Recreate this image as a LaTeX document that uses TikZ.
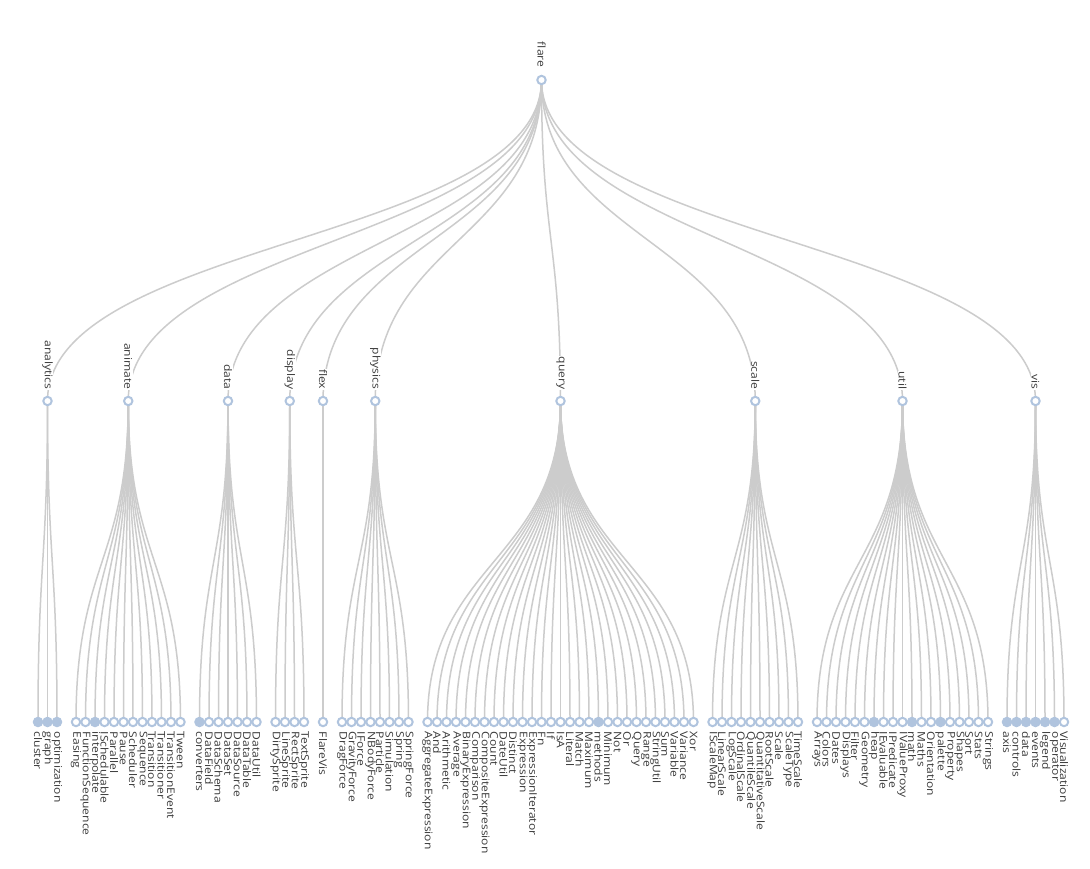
\documentclass[tikz,border=0pt]{standalone}
\usepackage{fontspec}
\setmainfont{Open Sans}
\usepackage{graphicx}
\pgfdeclarelayer{bg}
\pgfsetlayers{bg,main}
\definecolor{linkc}{HTML}{CCCCCC}
\definecolor{nodec}{HTML}{B0C4DE}
\definecolor{txtc}{HTML}{3A3A3A}
\tikzset{
  dot/.style={circle,draw=nodec,line width=2pt,fill=white,minimum size=8.4pt,inner sep=0pt},
  full/.style={dot,fill=nodec},
  link/.style={draw=linkc,line width=1.5pt},
  lbl/.style={rotate=-90,font=\fontsize{10.5}{12}\selectfont,text=txtc,inner sep=0.6pt},
  inlbl/.style={lbl,fill=white,anchor=east},
  leaflbl/.style={lbl,anchor=west},
}
\newcommand\hs[1]{\scalebox{1.15}[1]{#1}}
% #1 id/label, #2 parent x, #3 start unit, #4 list label/style
\newcommand\grp[4]{%
  \begin{pgfonlayer}{bg}
    \draw[link] (root.center) .. controls (541.5,240.5) and (#2,240.5) .. (#1.center);
  \end{pgfonlayer}
  \foreach \lbtxt/\lbsty [count=\i from 0] in {#4} {
    \pgfmathsetmacro\lx{38+9.5*(#3+\i)}
    \node[\lbsty] (#1-\i) at (\lx,722) {};
    \node[leaflbl] (#1-\i-l) at (\lx,731) {\hs{\lbtxt}};
    \begin{pgfonlayer}{bg}
      \draw[link] (#1.center) .. controls (#2,561.5) and (\lx,561.5) .. (#1-\i.center);
    \end{pgfonlayer}
  }
}
\begin{document}
\begin{tikzpicture}[x=1pt,y=-1pt]
\begin{pgfonlayer}{bg}
\fill[white] (0,0) rectangle (1090,869);
\end{pgfonlayer}
\useasboundingbox (0,0) rectangle (1090,869);
\node[dot] (root) at (541.5,80) {};
\node[lbl,anchor=east] (root-l) at (541.5,68) {\hs{flare}};
% level-1 nodes
\foreach \nm/\px in {analytics/47.5, animate/128.25, data/228, display/289.75, flex/323,
  physics/375.25, query/560.5, scale/755.25, util/902.5, vis/1035.5} {
  \node[dot] (\nm) at (\px,401) {};
}
\grp{analytics}{47.5}{0}{cluster/full,graph/full,optimization/full}
\grp{animate}{128.25}{4}{Easing/dot,FunctionSequence/dot,interpolate/full,ISchedulable/dot,Parallel/dot,Pause/dot,Scheduler/dot,Sequence/dot,Transition/dot,Transitioner/dot,TransitionEvent/dot,Tween/dot}
\grp{data}{228}{17}{converters/full,DataField/dot,DataSchema/dot,DataSet/dot,DataSource/dot,DataTable/dot,DataUtil/dot}
\grp{display}{289.75}{25}{DirtySprite/dot,LineSprite/dot,RectSprite/dot,TextSprite/dot}
\grp{flex}{323}{30}{FlareVis/dot}
\grp{physics}{375.25}{32}{DragForce/dot,GravityForce/dot,IForce/dot,NBodyForce/dot,Particle/dot,Simulation/dot,Spring/dot,SpringForce/dot}
\grp{query}{560.5}{41}{AggregateExpression/dot,And/dot,Arithmetic/dot,Average/dot,BinaryExpression/dot,Comparison/dot,CompositeExpression/dot,Count/dot,DateUtil/dot,Distinct/dot,Expression/dot,ExpressionIterator/dot,Fn/dot,If/dot,IsA/dot,Literal/dot,Match/dot,Maximum/dot,methods/full,Minimum/dot,Not/dot,Or/dot,Query/dot,Range/dot,StringUtil/dot,Sum/dot,Variable/dot,Variance/dot,Xor/dot}
\grp{scale}{755.25}{71}{IScaleMap/dot,LinearScale/dot,LogScale/dot,OrdinalScale/dot,QuantileScale/dot,QuantitativeScale/dot,RootScale/dot,Scale/dot,ScaleType/dot,TimeScale/dot}
\grp{util}{902.5}{82}{Arrays/dot,Colors/dot,Dates/dot,Displays/dot,Filter/dot,Geometry/dot,heap/full,IEvaluable/dot,IPredicate/dot,IValueProxy/dot,math/full,Maths/dot,Orientation/dot,palette/full,Property/dot,Shapes/dot,Sort/dot,Stats/dot,Strings/dot}
\grp{vis}{1035.5}{102}{axis/full,controls/full,data/full,events/full,legend/full,operator/full,Visualization/dot}
% level-1 labels (drawn over the links)
\foreach \nm/\px in {analytics/47.5, animate/128.25, data/228, display/289.75, flex/323,
  physics/375.25, query/560.5, scale/755.25, util/902.5, vis/1035.5} {
  \node[inlbl] (\nm-l) at (\px,390) {\hs{\nm}};
}
\end{tikzpicture}
\end{document}
